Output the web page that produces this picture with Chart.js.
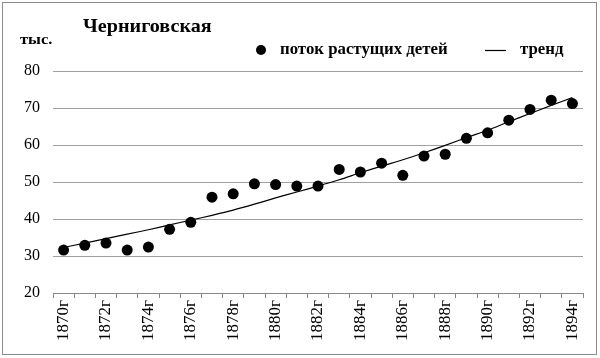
<!DOCTYPE html>
<html><head><meta charset="utf-8">
<script src="https://cdn.jsdelivr.net/npm/chart.js@4/dist/chart.umd.min.js"></script>
<style>html,body{margin:0;padding:0;background:#fff}#wrap{width:600px;height:358px;position:relative}</style>
</head><body><div id="wrap"><canvas id="c" width="600" height="358"></canvas></div>
<script>
const years = [1870,1871,1872,1873,1874,1875,1876,1877,1878,1879,1880,1881,1882,1883,1884,1885,1886,1887,1888,1889,1890,1891,1892,1893,1894];
const categories = years.map(y => y + 'г');
const childrenFlow = [31.6, 32.9, 33.5, 31.6, 32.4, 37.2, 39.1, 45.9, 46.8, 49.5, 49.3, 48.9, 48.9, 53.4, 52.7, 55.1, 51.8, 57.0, 57.5, 61.8, 63.3, 66.7, 69.6, 72.1, 71.2];
const trend = [32.3, 33.5, 34.7, 35.9, 37.1, 38.4, 39.7, 41.0, 42.4, 44.0, 45.7, 47.3, 48.9, 50.6, 52.5, 54.3, 56.0, 57.9, 59.9, 62.0, 64.0, 66.3, 68.5, 70.7, 72.8];
const yMin = 20, yMax = 80, yStep = 10;
const titleText = 'Черниговская';
const unitText = 'тыс.';
const seriesNames = ['поток растущих детей', 'тренд'];

const SERIF = '"Liberation Serif", "Times New Roman", serif';

function stretchedText(c, text, x, y, sx) {
  c.save();
  c.translate(x, y);
  c.scale(sx, 1);
  c.fillText(text, 0, 0);
  c.restore();
}

const decor = {
  id: 'decor',
  beforeDraw(chart) {
    const c = chart.ctx;
    c.save();
    c.fillStyle = '#fff';
    c.fillRect(0, 0, chart.width, chart.height);
    c.restore();
  },
  afterDraw(chart) {
    const c = chart.ctx;
    c.save();
    // frame
    c.strokeStyle = '#8c8c8c';
    c.lineWidth = 1;
    c.strokeRect(2.5, 2.5, 594, 352);
    // title
    c.fillStyle = '#000';
    c.textBaseline = 'alphabetic';
    c.textAlign = 'left';
    c.font = 'bold 19px ' + SERIF;
    stretchedText(c, titleText, 83, 32, 1.06);
    // unit
    c.font = 'bold 15px ' + SERIF;
    stretchedText(c, unitText, 20, 44, 1.1);
    // legend
    const ly = 50;
    c.beginPath();
    c.arc(261, ly, 5, 0, Math.PI * 2);
    c.fill();
    c.font = 'bold 16px ' + SERIF;
    c.textBaseline = 'middle';
    stretchedText(c, chart.data.datasets[0].label, 280, ly, 1.05);
    c.beginPath();
    c.moveTo(485, ly + 0.5);
    c.lineTo(506, ly + 0.5);
    c.strokeStyle = '#000';
    c.lineWidth = 1.2;
    c.stroke();
    stretchedText(c, chart.data.datasets[1].label, 520, ly, 1.05);
    c.restore();
  }
};

new Chart(document.getElementById('c'), {
  type: 'line',
  data: {
    labels: categories,
    datasets: [
      { label: seriesNames[0], data: childrenFlow, showLine: false, pointRadius: 5.5, pointBackgroundColor: '#000', pointBorderColor: '#000', pointBorderWidth: 0, order: 2 },
      { label: seriesNames[1], data: trend, borderColor: '#000', borderWidth: 1.2, pointRadius: 0, tension: 0.3, fill: false, order: 1 }
    ]
  },
  options: {
    responsive: false,
    animation: false,
    devicePixelRatio: 1,
    layout: { padding: { left: 0, right: 17, top: 71, bottom: 0 } },
    plugins: { legend: { display: false }, title: { display: false }, tooltip: { enabled: false } },
    scales: {
      x: {
        offset: true,
        grid: { offset: true, drawOnChartArea: false, drawTicks: true, tickLength: 5, color: '#888' },
        border: { display: true, color: '#888' },
        ticks: {
          autoSkip: false, maxRotation: 90, minRotation: 90, padding: 2, color: '#000',
          font: { family: SERIF, size: 17 },
          callback: (v, i) => (i % 2 === 0 ? categories[i] : '')
        },
        afterFit: s => { s.height = 65; }
      },
      y: {
        min: yMin, max: yMax,
        ticks: { stepSize: yStep, padding: 13, color: '#000', font: { family: SERIF, size: 16 } },
        grid: { color: '#a0a0a0', drawTicks: false },
        border: { display: false },
        afterFit: s => { s.width = 53; }
      }
    }
  },
  plugins: [decor]
});
</script>
</body></html>
